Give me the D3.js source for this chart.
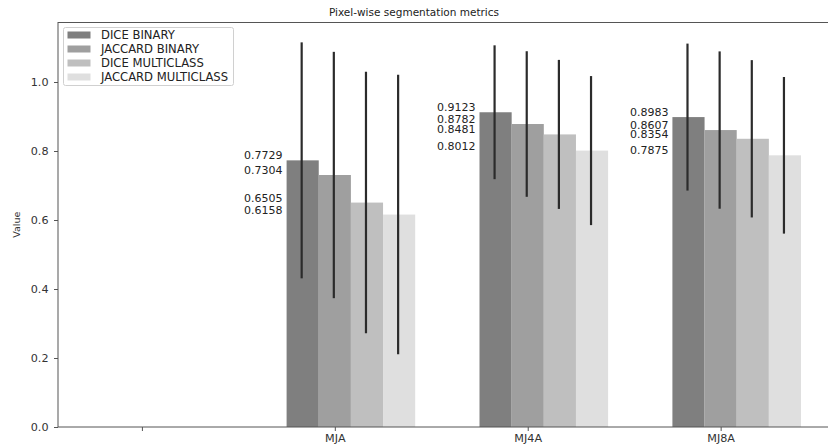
<!DOCTYPE html>
<html><head><meta charset="utf-8">
<script src="https://cdn.jsdelivr.net/npm/d3@7"></script>
<style>body{margin:0;background:#fff}svg{display:block}text{font-family:"DejaVu Sans",sans-serif}</style>
</head><body>
<svg id="c" width="828" height="446"></svg>
<script>
const title = "Pixel-wise segmentation metrics";
const yLabel = "Value";
const categories = ["", "MJA", "MJ4A", "MJ8A"];
const seriesNames = ["DICE BINARY", "JACCARD BINARY", "DICE MULTICLASS", "JACCARD MULTICLASS"];
const diceBinary = [null, 0.7729, 0.9123, 0.8983];
const jaccardBinary = [null, 0.7304, 0.8782, 0.8607];
const diceMulti = [null, 0.6505, 0.8481, 0.8354];
const jaccardMulti = [null, 0.6158, 0.8012, 0.7875];
const diceBinaryErr = [null, 0.342, 0.194, 0.213];
const jaccardBinaryErr = [null, 0.357, 0.211, 0.228];
const diceMultiErr = [null, 0.379, 0.216, 0.228];
const jaccardMultiErr = [null, 0.405, 0.216, 0.227];
const yTicks = [0.0, 0.2, 0.4, 0.6, 0.8, 1.0];
const colors = ["#7f7f7f", "#9f9f9f", "#bfbfbf", "#dfdfdf"];

(function () {
const series = [diceBinary, jaccardBinary, diceMulti, jaccardMulti];
const errs = [diceBinaryErr, jaccardBinaryErr, diceMultiErr, jaccardMultiErr];

const svg = d3.select("#c");
const mL = 58, mR = 836, mT = 22.5, mB = 427;
const x = d3.scaleLinear().domain([-0.435, 3.598]).range([mL, mR]);
const y = d3.scaleLinear().domain([0, 1]).range([mB, 82]);
const barW = 1/6;

const g = svg.append("g");
series.forEach((vals, si) => {
  vals.forEach((v, ci) => {
    if (v == null) return;
    const x0 = x(ci + (si - 1.5) * barW);
    const x1 = x(ci + (si - 0.5) * barW);
    g.append("rect").attr("x", x0).attr("y", y(v)).attr("width", x1 - x0).attr("height", y(0) - y(v))
      .attr("fill", colors[si]);
  });
});
series.forEach((vals, si) => {
  vals.forEach((v, ci) => {
    if (v == null) return;
    const cx = x(ci + (si - 1) * barW) - 1;
    const e = errs[si][ci];
    g.append("line").attr("x1", cx).attr("x2", cx).attr("y1", y(v - e)).attr("y2", y(v + e))
      .attr("stroke", "#2b2b2b").attr("stroke-width", 2.2);
  });
});
series.forEach((vals, si) => {
  vals.forEach((v, ci) => {
    if (v == null) return;
    g.append("text").attr("x", x(ci - 1.5 * barW) - 4).attr("y", y(v) - 1)
      .attr("text-anchor", "end").attr("font-size", 11).attr("fill", "#222")
      .text(v.toFixed(4));
  });
});

const yAxis = d3.axisLeft(y).tickValues(yTicks).tickFormat(d3.format(".1f")).tickSize(4).tickPadding(5.5);
const ya = svg.append("g").attr("transform", `translate(${mL},0)`).call(yAxis);
ya.select(".domain").remove();
const xAxis = d3.axisBottom(x).tickValues(categories.map((c, i) => i)).tickFormat(i => categories[i]).tickSize(4).tickPadding(3);
const xa = svg.append("g").attr("transform", `translate(0,${mB})`).call(xAxis);
xa.select(".domain").remove();
[ya, xa].forEach(a => {
  a.selectAll("text").attr("font-size", 11.2).attr("fill", "#333").attr("font-family", "DejaVu Sans");
  a.selectAll("line").attr("stroke", "#555");
});
svg.append("rect").attr("x", mL).attr("y", mT).attr("width", mR - mL).attr("height", mB - mT)
  .attr("fill", "none").attr("stroke", "#555").attr("stroke-width", 1);

svg.append("text").attr("x", 414).attr("y", 16).attr("text-anchor", "middle")
  .attr("font-size", 10.5).attr("fill", "#222").text(title);
svg.append("text").attr("transform", `translate(20,${(mT + mB) / 2}) rotate(-90)`).attr("text-anchor", "middle")
  .attr("font-size", 9.5).attr("fill", "#333").text(yLabel);

const lg = svg.append("g");
lg.append("rect").attr("x", 63.5).attr("y", 27.5).attr("width", 170).attr("height", 58).attr("rx", 2)
  .attr("fill", "#fff").attr("fill-opacity", 0.85).attr("stroke", "#d0d0d0");
seriesNames.forEach((n, i) => {
  const yy = 34.5 + i * 14;
  lg.append("rect").attr("x", 67.5).attr("y", yy - 3).attr("width", 23).attr("height", 7).attr("fill", colors[i]);
  lg.append("text").attr("x", 101).attr("y", yy + 4).attr("font-size", 11.6).attr("fill", "#222").text(n);
});
})();
</script>
</body></html>
